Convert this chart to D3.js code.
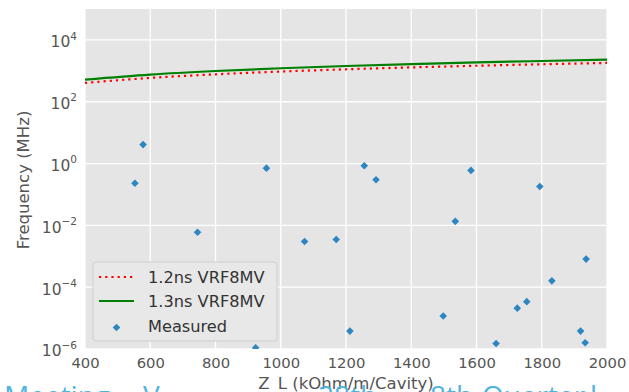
<!DOCTYPE html>
<html><head><meta charset="utf-8">
<script src="https://cdn.jsdelivr.net/npm/d3@7"></script>
<style>body{margin:0;background:#fff;}svg{display:block;font-family:"DejaVu Sans",sans-serif;}</style>
</head><body><svg id="c" width="629" height="392"></svg>
<script>
const xTicks = [400, 600, 800, 1000, 1200, 1400, 1600, 1800, 2000];
const yTickExps = [-6, -4, -2, 0, 2, 4];
const curveZ = [400, 600, 800, 1000, 1200, 1400, 1600, 1800, 2000];
const green13 = [519, 755, 985, 1210, 1430, 1650, 1870, 2080, 2300];
const red12 = [406, 590, 770, 945, 1120, 1290, 1460, 1630, 1800];
const measZ = [553, 578, 745, 923, 956, 1073, 1170, 1212, 1256, 1292, 1498, 1535, 1583, 1660, 1725, 1754, 1794, 1831, 1919, 1933, 1936];
const measF = [0.23, 4.1, 0.006, 1.1e-6, 0.71, 0.003, 0.0035, 3.8e-6, 0.85, 0.30, 1.17e-5, 0.0135, 0.6, 1.5e-6, 2.1e-5, 3.4e-5, 0.18, 1.6e-4, 3.8e-6, 1.6e-6, 8.1e-4];
const legendLabels = ["1.2ns VRF8MV", "1.3ns VRF8MV", "Measured"];

const svg = d3.select("#c");
const L = 85, R = 607, T = 9, B = 349;
const x = d3.scaleLinear().domain([400, 2000]).range([L, R]);
const y = d3.scaleLog().domain([1e-6, 1e5]).range([B, T]);

const defs = svg.append("defs");
defs.append("clipPath").attr("id", "clip").append("rect").attr("x", L).attr("y", T).attr("width", R - L).attr("height", B - T);

svg.append("rect").attr("x", L).attr("y", T).attr("width", R - L).attr("height", B - T).attr("fill", "#e5e5e5");

// grid
const g = svg.append("g");
g.selectAll(".vx").data(xTicks).join("line")
  .attr("x1", d => x(d)).attr("x2", d => x(d)).attr("y1", T).attr("y2", B)
  .attr("stroke", "#fff").attr("stroke-width", 1.3);
g.selectAll(".hy").data(yTickExps).join("line")
  .attr("x1", L).attr("x2", R).attr("y1", d => y(Math.pow(10, d))).attr("y2", d => y(Math.pow(10, d)))
  .attr("stroke", "#fff").attr("stroke-width", 1.3);

// axes via d3 axis
const xAxis = d3.axisBottom(x).tickValues(xTicks).tickSize(0).tickPadding(8).tickFormat(d3.format("d"));
const xa = svg.append("g").attr("transform", `translate(0,${B})`).call(xAxis);
xa.select(".domain").remove();
xa.selectAll("text").attr("fill", "#555").attr("font-size", 14.8).attr("font-family", "DejaVu Sans");

const yAxis = d3.axisLeft(y).tickValues(yTickExps.map(e => Math.pow(10, e))).tickSize(0).tickPadding(8).tickFormat("");
const ya = svg.append("g").attr("transform", `translate(${L},0)`).call(yAxis);
ya.select(".domain").remove();
ya.selectAll(".tick").each(function(d) {
  const e = Math.round(Math.log10(d));
  const t = d3.select(this).select("text").text(null)
    .attr("fill", "#555").attr("font-size", 15.5).attr("font-family", "DejaVu Sans").attr("dy", "0.45em");
  t.append("tspan").text("10");
  t.append("tspan").attr("font-size", 10.5).attr("dy", "-0.75em").text(e < 0 ? "\u2212" + (-e) : String(e));
});

// lines
const clip = svg.append("g").attr("clip-path", "url(#clip)");
const line = d3.line().x(d => x(d[0])).y(d => y(d[1])).curve(d3.curveMonotoneX);
clip.append("path").datum(curveZ.map((z, i) => [z, red12[i]])).attr("d", line)
  .attr("fill", "none").attr("stroke", "#ff0000").attr("stroke-width", 2.2).attr("stroke-dasharray", "2.2,4");
clip.append("path").datum(curveZ.map((z, i) => [z, green13[i]])).attr("d", line)
  .attr("fill", "none").attr("stroke", "#008000").attr("stroke-width", 2.2);

// diamonds
const diamond = (cx, cy, r) => `M${cx},${cy - r}L${cx + r},${cy}L${cx},${cy + r}L${cx - r},${cy}Z`;
clip.selectAll(".pt").data(measZ.map((z, i) => [z, measF[i]])).join("path")
  .attr("d", d => diamond(x(d[0]), y(d[1]), 3.8)).attr("fill", "#2e86c1");

// legend
const lg = svg.append("g");
lg.append("rect").attr("x", 93).attr("y", 262).attr("width", 184).attr("height", 79).attr("rx", 3)
  .attr("fill", "#e8e8e8").attr("stroke", "#cfcfcf").attr("stroke-width", 1);
const ly = [277, 301, 325.5];
lg.append("line").attr("x1", 99).attr("x2", 134).attr("y1", ly[0]).attr("y2", ly[0])
  .attr("stroke", "#ff0000").attr("stroke-width", 2.2).attr("stroke-dasharray", "2.2,4");
lg.append("line").attr("x1", 99).attr("x2", 134).attr("y1", ly[1]).attr("y2", ly[1])
  .attr("stroke", "#008000").attr("stroke-width", 2.2);
lg.append("path").attr("d", diamond(116.5, ly[2] + 2, 3.8)).attr("fill", "#2e86c1");
lg.selectAll(".lt").data(legendLabels).join("text")
  .attr("x", 148).attr("y", (d, i) => ly[i] + 6).text(d => d)
  .attr("fill", "#333").attr("font-size", 16.2).attr("font-family", "DejaVu Sans");

// axis labels
svg.append("text").attr("x", 346).attr("y", 388.5).attr("text-anchor", "middle")
  .attr("fill", "#555").attr("font-size", 16.5).text("Z_L (kOhm/m/Cavity)");
svg.append("text").attr("transform", "translate(29,180) rotate(-90)").attr("text-anchor", "middle")
  .attr("fill", "#555").attr("font-size", 16.5).text("Frequency (MHz)");

// slide text fragments below the chart (cut off by the frame)
const bl = svg.append("g").attr("fill", "#4db3df").attr("font-size", 28).attr("font-family", "Open Sans");
bl.append("text").attr("x", 4).attr("y", 406).text("Meeting");
bl.append("text").attr("x", 143).attr("y", 406).text("V");
bl.append("text").attr("x", 318).attr("y", 406).text("28th");
bl.append("text").attr("x", 430).attr("y", 406).text("8th");
bl.append("text").attr("x", 482).attr("y", 406).text("Quarter");
bl.append("text").attr("x", 590).attr("y", 406).text("l");
</script></body></html>
